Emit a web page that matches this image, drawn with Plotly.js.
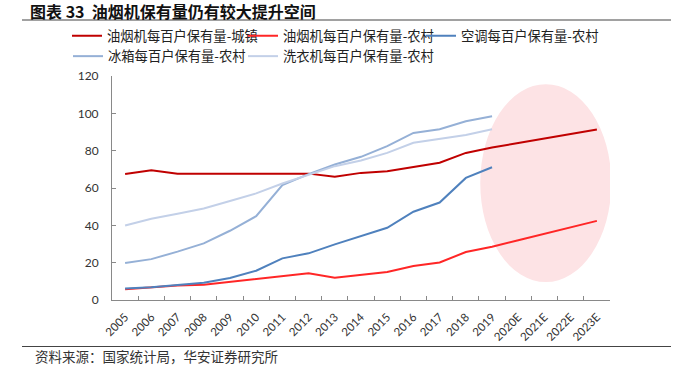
<!DOCTYPE html>
<html>
<head>
<meta charset="utf-8">
<script src="https://cdn.plot.ly/plotly-3.0.1.min.js"></script>
<style>html,body{margin:0;padding:0;background:#fff;}#chart{width:678px;height:365px;}</style>
</head>
<body>
<div id="chart"></div>
<script>
const years = ['2005','2006','2007','2008','2009','2010','2011','2012','2013','2014','2015','2016','2017','2018','2019','2020E','2021E','2022E','2023E'];
const hoodUrban = [67.5,69.5,67.7,67.7,67.7,67.7,67.7,67.7,66.0,68.1,69.0,71.3,73.5,78.8,81.7,84.1,86.5,88.9,91.3];
const hoodRural = [5.8,6.8,7.8,8.2,9.8,11.1,12.8,14.3,11.9,13.6,15.0,18.2,20.1,25.7,28.5,32.0,35.5,39.0,42.4];
const acRural = [6.1,6.8,8.0,9.3,11.8,15.7,22.3,25.0,29.8,34.2,38.7,47.3,52.2,65.4,71.1,null,null,null,null];
const fridgeRural = [19.8,21.9,25.9,30.3,37.1,44.9,61.5,67.4,72.6,76.7,82.4,89.5,91.5,95.8,98.4,null,null,null,null];
const washerRural = [39.9,43.5,46.2,49.0,53.0,57.1,62.4,66.9,71.7,74.7,78.8,84.2,86.3,88.4,91.5,null,null,null,null];
const seriesNames = ['油烟机每百户保有量-城镇','油烟机每百户保有量-农村','空调每百户保有量-农村','冰箱每百户保有量-农村','洗衣机每百户保有量-农村'];

const colors = ['#c00000','#ff2626','#4f81bd','#95b0d6','#c3d0e8'];
const allData = [hoodUrban, hoodRural, acRural, fridgeRural, washerRural];
const legendIds = ['legend','legend2','legend3','legend4','legend5'];

const traces = allData.map((d,i)=>({
  type:'scatter', mode:'lines', x: years, y: d, name: seriesNames[i],
  line:{color: colors[i], width: 2}, connectgaps:false, legend: legendIds[i]
}));

const W = 678, H = 365, L = 112, R = 68, T = 76, B = 65;
const pw = W-L-R, ph = H-T-B;
const px = v => (v - L)/pw;
const py = v => (H - B - v)/ph;

const legendFont = {family:'"Noto Sans CJK SC", sans-serif', size:13.3, color:'#222'};
// legend item placements (pixels): left, top
const legendPos = [[67,20.5],[243,20.5],[421,20.5],[68,41],[243,41]];

const layout = {
  width: W, height: H,
  margin:{l:L, r:R, t:T, b:B},
  paper_bgcolor:'#fff', plot_bgcolor:'#fff',
  title:{text:'<b>图表 33  油烟机保有量仍有较大提升空间</b>', xref:'container', yref:'container', x: 30/W, xanchor:'left', y: 1-12/H, yanchor:'middle',
    font:{family:'"Noto Sans CJK SC", sans-serif', size:16, color:'#111'}},
  showlegend:true,
  xaxis:{type:'category', range:[-0.5,18.5], tickson:'boundaries', ticks:'inside', ticklen:4, tickcolor:'#898989',
    showline:true, linecolor:'#898989', linewidth:1, showgrid:false, zeroline:false, tickangle:-45, ticklabelstandoff:5,
    tickfont:{family:'Lato, sans-serif', size:11.5, color:'#333'}, fixedrange:true},
  yaxis:{range:[0,120], dtick:20, ticks:'inside', ticklen:4, tickcolor:'#898989', showline:true, linecolor:'#898989', linewidth:1,
    showgrid:false, zeroline:false, ticklabelstandoff:10, tickfont:{family:'Lato, sans-serif', size:12, color:'#333'}, fixedrange:true},
  shapes:[
    {type:'circle', xref:'x', yref:'y', x0:13.55, x1:18.55, y0:9.6, y1:115.6, fillcolor:'#fde3e5', line:{width:0}, layer:'below'},
    {type:'line', xref:'paper', yref:'paper', x0:px(22), x1:px(671), y0:py(20), y1:py(20), line:{color:'#444', width:1.2}},
    {type:'line', xref:'paper', yref:'paper', x0:px(22), x1:px(671), y0:py(346.5), y1:py(346.5), line:{color:'#444', width:1.2}}
  ],
  annotations:[
    {text:'资料来源：国家统计局，华安证券研究所', xref:'paper', yref:'paper', x:px(33), xanchor:'left', y:py(355.5), yanchor:'middle',
     showarrow:false, font:{family:'"Noto Sans CJK SC", sans-serif', size:13.5, color:'#333'}}
  ]
};
legendIds.forEach((id,i)=>{
  layout[id] = {orientation:'h', xref:'paper', yref:'paper', x: px(legendPos[i][0]), xanchor:'left', y: py(legendPos[i][1]), yanchor:'top',
    font: legendFont, bgcolor:'rgba(0,0,0,0)'};
});
Plotly.newPlot('chart', traces, layout, {displayModeBar:false, staticPlot:true});
</script>
</body>
</html>
